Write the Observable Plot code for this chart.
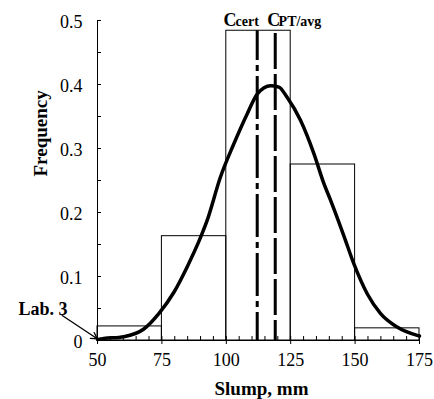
<!DOCTYPE html>
<html><head><meta charset="utf-8">
<script src="https://cdn.jsdelivr.net/npm/d3@7"></script>
<script src="https://cdn.jsdelivr.net/npm/@observablehq/plot@0.6"></script>
<style>
body{margin:0;background:#fff}
svg{display:block}
#chart svg, #chart svg text { font-family: "Liberation Serif", "Times New Roman", serif !important; }
</style>
</head><body><div id="chart"></div>
<script>
// Histogram bins (slump, mm) and relative frequencies
const binStart = [50, 75, 100, 125, 150];
const binEnd = [75, 100, 125, 150, 175];
const frequency = [0.022, 0.163, 0.484, 0.275, 0.019];

// Fitted distribution curve
const curveX = [50, 52.4, 60.2, 68, 73.8, 79.6, 84.8, 90, 92.6, 97.7, 102.9, 108.1, 112, 117.2, 120.4, 123.6, 128.8, 134, 137.9, 140.5, 145.6, 149.5, 154.7, 159.9, 166.3, 174.1, 175];
const curveY = [0.0015, 0.003, 0.006, 0.018, 0.042, 0.075, 0.115, 0.161, 0.188, 0.255, 0.307, 0.354, 0.385, 0.398, 0.396, 0.380, 0.344, 0.292, 0.245, 0.219, 0.164, 0.120, 0.073, 0.042, 0.021, 0.008, 0.007];

// Reference values
const cCert = 112;
const cPT = 119;
const refTop = 0.484;

// Ticks
const xTicks = [50, 75, 100, 125, 150, 175];
const xTickLabels = ["50", "75", "100", "125", "150", "175"];
const xMinor = d3.range(50, 176, 5);
const yTicks = [0, 0.1, 0.2, 0.3, 0.4, 0.5];
const yTickLabels = ["0", "0.1", "0.2", "0.3", "0.4", "0.5"];
const yMinor = [0, 0.05, 0.1, 0.15, 0.2, 0.25, 0.3, 0.35, 0.4, 0.45, 0.5];

const bins = binStart.map((s, i) => ({x1: s, x2: binEnd[i], f: frequency[i]}));
const curve = curveX.map((x, i) => ({x, y: curveY[i]}));

const serif = "Liberation Serif";

const plot = Plot.plot({
  width: 434,
  height: 399,
  marginLeft: 97,
  marginRight: 15,
  marginTop: 20,
  marginBottom: 59,
  x: {domain: [50, 175], label: null},
  y: {domain: [0, 0.5], label: null},
  style: {fontFamily: serif, background: "white", color: "black", overflow: "visible"},
  marks: [
    Plot.rect(bins, {x1: "x1", x2: "x2", y1: 0, y2: "f", stroke: "black", fill: "none", strokeWidth: 1}),
    Plot.ruleX([cCert], {y1: 0, y2: refTop, stroke: "black", strokeWidth: 3, strokeDasharray: "43,5,6,5", strokeDashoffset: 15}),
    Plot.ruleX([cPT], {y1: 0, y2: refTop, stroke: "black", strokeWidth: 3, strokeDasharray: "36,5", strokeDashoffset: 16}),
    Plot.line(curve, {x: "x", y: "y", curve: "monotone-x", stroke: "black", strokeWidth: 3.5, strokeLinejoin: "round"}),
    Plot.ruleY([0], {stroke: "black", strokeWidth: 1}),
    Plot.ruleX([50], {stroke: "black", strokeWidth: 1}),
    // x ticks
    Plot.axisX(xMinor, {tickSize: -4, tickFormat: () => "", label: null}),
    Plot.axisX(xTicks, {tickSize: 4, tickFormat: () => "", label: null}),
    Plot.axisX(xTicks, {tickSize: 0, tickPadding: 13, fontSize: 18, fontFamily: serif, tickFormat: d => xTickLabels[xTicks.indexOf(d)], label: null}),
    // y ticks
    Plot.axisY(yMinor, {tickSize: -4, tickFormat: () => "", label: null}),
    Plot.axisY(yTicks, {tickSize: 0, tickPadding: 15, fontSize: 18, fontFamily: serif, dy: 1.5, tickFormat: d => yTickLabels[yTicks.indexOf(d)], label: null}),
    // axis titles
    Plot.text(["Frequency"], {frameAnchor: "left", dx: -57, dy: -4, rotate: -90, fontWeight: "bold", fontSize: 19, fontFamily: serif}),
    Plot.text(["Slump, mm"], {frameAnchor: "bottom", dx: 3, dy: 54, lineAnchor: "bottom", fontWeight: "bold", fontSize: 19, fontFamily: serif}),
    // reference labels
    Plot.text(["C"], {x: 98.9, frameAnchor: "top", dy: 5, lineAnchor: "bottom", textAnchor: "start", fontWeight: "bold", fontSize: 18, fontFamily: serif}),
    Plot.text(["cert"], {x: 103.6, frameAnchor: "top", dy: 5, lineAnchor: "bottom", textAnchor: "start", fontWeight: "bold", fontSize: 14, fontFamily: serif}),
    Plot.text(["C"], {x: 115.9, frameAnchor: "top", dy: 5, lineAnchor: "bottom", textAnchor: "start", fontWeight: "bold", fontSize: 18, fontFamily: serif}),
    Plot.text(["PT/avg"], {x: 120.3, frameAnchor: "top", dy: 5, lineAnchor: "bottom", textAnchor: "start", fontWeight: "bold", fontSize: 14, fontFamily: serif}),
    // Lab. 3 annotation
    Plot.text(["Lab. 3"], {frameAnchor: "bottom-left", dx: -54.5, dy: -26, lineAnchor: "bottom", textAnchor: "middle", fontWeight: "bold", fontSize: 18, fontFamily: serif}),
    Plot.arrow([{x1: 36.3, y1: 0.039, x2: 49.9, y2: 0.0027}], {x1: "x1", y1: "y1", x2: "x2", y2: "y2", stroke: "black", strokeWidth: 1.3, headLength: 8, bend: false})
  ]
});
document.getElementById("chart").appendChild(plot);
</script>
</body></html>
